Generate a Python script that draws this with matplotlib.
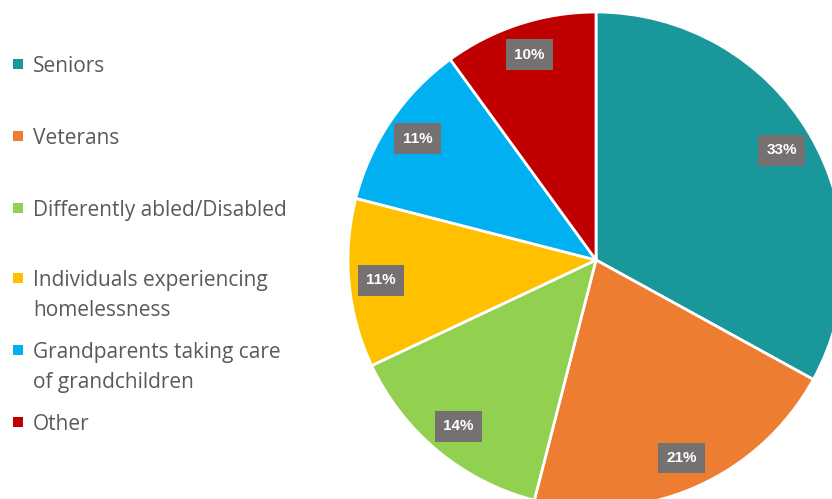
import matplotlib.pyplot as plt
from matplotlib.patches import Rectangle

labels = ['Seniors', 'Veterans', 'Differently abled/Disabled',
          'Individuals experiencing\nhomelessness',
          'Grandparents taking care\nof grandchildren', 'Other']
values = [33, 21, 14, 11, 11, 10]
colors = ['#1A979B', '#ED7D31', '#92D050', '#FFC000', '#00B0F0', '#C00000']

W, H = 832, 499
fig = plt.figure(figsize=(W / 100, H / 100), dpi=100)
ax = fig.add_axes([0, 0, 1, 1])

cx, cy, R = 596, H - 260, 248
wedges, texts, autotexts = ax.pie(
    values, colors=colors, startangle=90, counterclock=False,
    center=(cx, cy), radius=R, autopct='%d%%', pctdistance=0.87,
    wedgeprops=dict(edgecolor='white', linewidth=2),
    textprops=dict(color='white', fontsize=11, fontweight='bold',
                   family='Liberation Sans'),
    frame=True)
ax.set_xlim(0, W)
ax.set_ylim(0, H)
ax.set_aspect('equal')
ax.axis('off')
for t in autotexts:
    t.set_bbox(dict(boxstyle='square,pad=0.55', facecolor='#767171', edgecolor='none'))

# legend, placed by hand like the original
leg_y = [64, 136, 208, 278, 350, 422]
for lab, col, y in zip(labels, colors, leg_y):
    ax.add_patch(Rectangle((13, H - y - 5), 10, 10, facecolor=col, edgecolor='none'))
    for k, line in enumerate(lab.split('\n')):
        ax.text(33, H - y - 30 * k, line, fontsize=15, color='#595959',
                family='Open Sans', va='center_baseline')

fig.savefig('out.png', dpi=100)
